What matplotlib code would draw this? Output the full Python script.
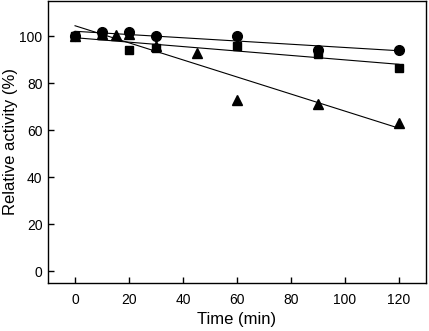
import numpy as np
import matplotlib.pyplot as plt

plt.rcParams['font.family'] = ['Liberation Sans', 'DejaVu Sans']

# Данные
t_circle = [0, 10, 20, 30, 60, 90, 120]
y_circle = [100, 102, 102, 100, 100, 94, 94]

t_square = [0, 10, 20, 30, 60, 90, 120]
y_square = [100, 100.5, 94, 95, 96, 92.5, 86.5]

t_tri = [0, 10, 15, 20, 30, 45, 60, 90, 120]
y_tri = [100, 101, 100.5, 101, 96, 93, 73, 71, 63]

xticks = [0, 20, 40, 60, 80, 100, 120]
yticks = [0, 20, 40, 60, 80, 100]

fig = plt.figure(figsize=(4.29, 3.31), dpi=100)
ax = fig.add_axes([0.112, 0.145, 0.881, 0.852])

t_fit = np.array([0, 120])
for t, y, m, ms in [(t_circle, y_circle, 'o', 7),
                    (t_square, y_square, 's', 6),
                    (t_tri, y_tri, '^', 7.5)]:
    ax.plot(t, y, m, color='black', markersize=ms, zorder=3)
    k, b = np.polyfit(t, y, 1)
    ax.plot(t_fit, k * t_fit + b, color='black', linewidth=0.8, zorder=2)

ax.set_xlim(-10, 130)
ax.set_ylim(-5, 115)
ax.set_xticks(xticks)
ax.set_yticks(yticks)
ax.tick_params(direction='in', length=4, width=1, labelsize=10)
ax.tick_params(axis='x', pad=7)
ax.tick_params(axis='y', pad=4)
for s in ax.spines.values():
    s.set_linewidth(1)

ax.set_xlabel('Time (min)', fontsize=12, labelpad=4)
ax.set_ylabel('Relative activity (%)', fontsize=12, labelpad=1)

fig.savefig('out.png', dpi=100)
